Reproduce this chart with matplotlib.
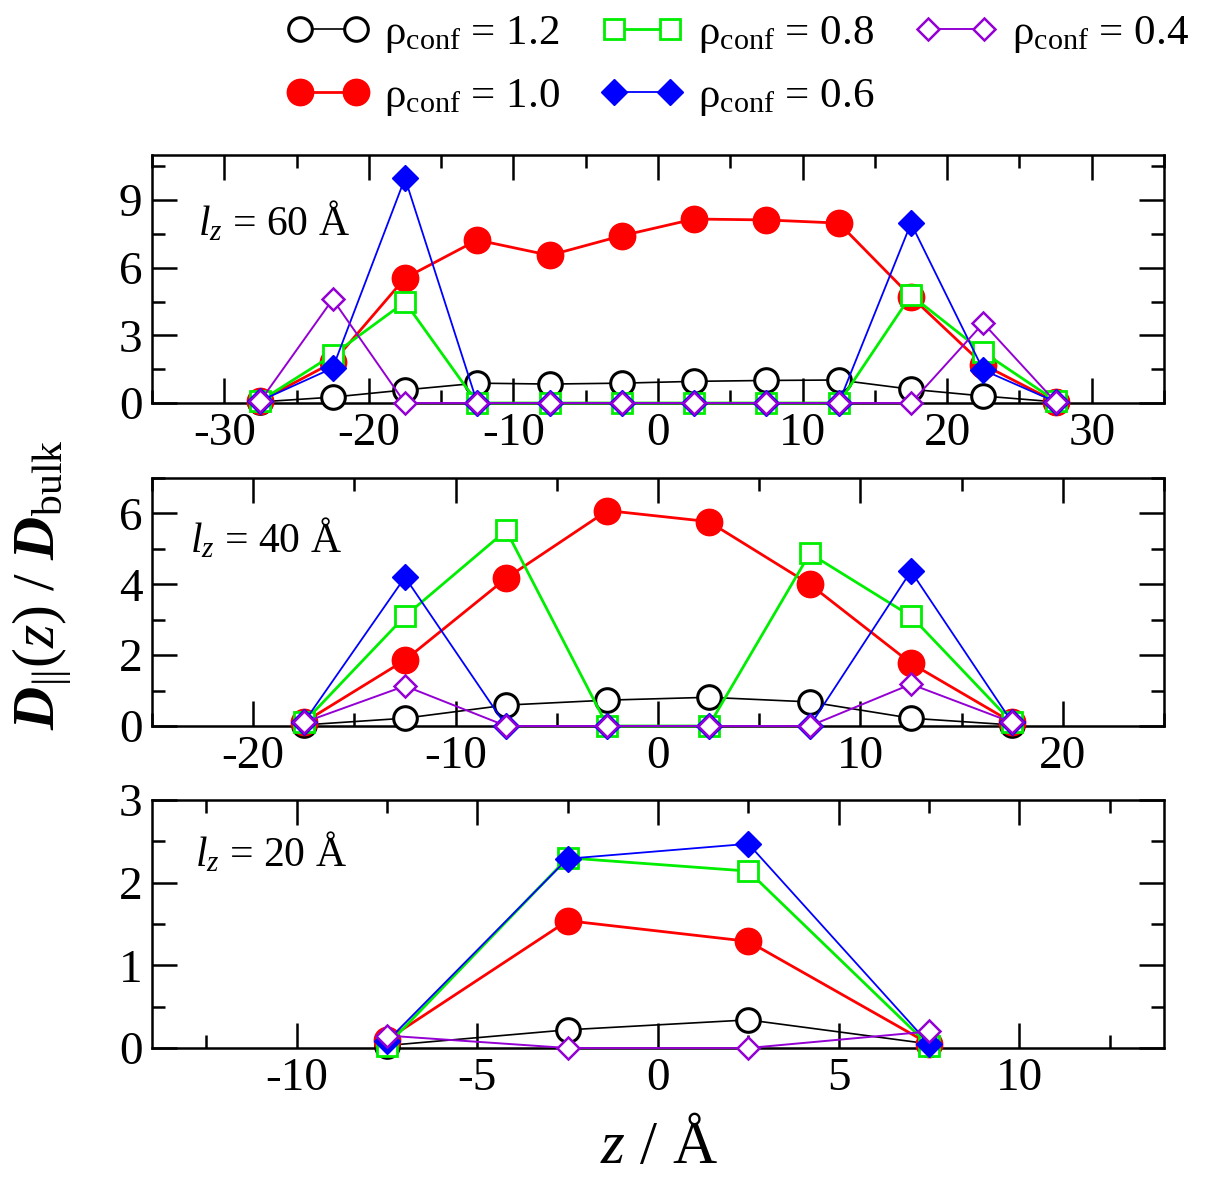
import numpy as np
import matplotlib
matplotlib.use("Agg")
import matplotlib.pyplot as plt
from matplotlib.ticker import MultipleLocator

plt.rcParams['font.family'] = ['Liberation Serif', 'DejaVu Serif']
plt.rcParams['mathtext.fontset'] = 'custom'
plt.rcParams['mathtext.rm'] = 'Liberation Serif'
plt.rcParams['mathtext.it'] = 'Liberation Serif:italic'
plt.rcParams['mathtext.bf'] = 'Liberation Serif:bold'
plt.rcParams['mathtext.bfit'] = 'Liberation Serif:italic:bold'
plt.rcParams['axes.unicode_minus'] = False

# Data: D_par(z)/D_bulk for three slit widths
z60 = [-27.5, -22.5, -17.5, -12.5, -7.5, -2.5, 2.5, 7.5, 12.5, 17.5, 22.5, 27.5]
d60_12 = [0.05, 0.26, 0.58, 0.88, 0.84, 0.88, 0.96, 1.0, 1.02, 0.61, 0.31, 0.05]
d60_10 = [0.1, 1.8, 5.54, 7.23, 6.55, 7.42, 8.16, 8.12, 7.98, 4.72, 1.7, 0.05]
d60_08 = [0.1, 2.13, 4.48, 0.0, 0.0, 0.0, 0.0, 0.0, 0.0, 4.78, 2.25, 0.1]
d60_06 = [0.1, 1.55, 9.97, 0.0, 0.0, 0.0, 0.0, 0.0, 0.0, 7.97, 1.46, 0.05]
d60_04 = [0.1, 4.6, 0.0, 0.0, 0.0, 0.0, 0.0, 0.0, 0.0, 0.0, 3.54, 0.05]

z40 = [-17.5, -12.5, -7.5, -2.5, 2.5, 7.5, 12.5, 17.5]
d40_12 = [0.03, 0.22, 0.59, 0.73, 0.81, 0.68, 0.22, 0.03]
d40_10 = [0.1, 1.86, 4.17, 6.08, 5.77, 4.0, 1.77, 0.1]
d40_08 = [0.1, 3.1, 5.52, 0.0, 0.0, 4.87, 3.1, 0.1]
d40_06 = [0.1, 4.2, 0.0, 0.0, 0.0, 0.0, 4.37, 0.1]
d40_04 = [0.1, 1.13, 0.0, 0.0, 0.0, 0.0, 1.18, 0.1]

z20 = [-7.5, -2.5, 2.5, 7.5]
d20_12 = [0.03, 0.22, 0.34, 0.05]
d20_10 = [0.1, 1.54, 1.29, 0.05]
d20_08 = [0.03, 2.3, 2.14, 0.03]
d20_06 = [0.08, 2.29, 2.47, 0.05]
d20_04 = [0.15, 0.0, 0.0, 0.2]

rho_labels = ['1.2', '1.0', '0.8', '0.6', '0.4']

styles = [
    dict(color='black', lw=1.2, marker='o', ms=17, mfc='white', mec='black', mew=2.2),
    dict(color='red', lw=2.0, marker='o', ms=19, mfc='red', mec='red', mew=1),
    dict(color='#00ee00', lw=2.0, marker='s', ms=14.5, mfc='white', mec='#00ee00', mew=2.0),
    dict(color='blue', lw=1.3, marker='D', ms=13, mfc='blue', mec='blue', mew=1),
    dict(color='#9400d3', lw=1.4, marker='D', ms=11.5, mfc='white', mec='#9400d3', mew=1.8),
]

panels = [
    (z60, [d60_12, d60_10, d60_08, d60_06, d60_04], (-35, 35), 10, 5, (0, 11), 3, 1.5, '60'),
    (z40, [d40_12, d40_10, d40_08, d40_06, d40_04], (-25, 25), 10, 5, (0, 7), 2, 1, '40'),
    (z20, [d20_12, d20_10, d20_08, d20_06, d20_04], (-14, 14), 5, 2.5, (0, 3), 1, 0.5, '20'),
]

W, H = 1219, 1180
fig = plt.figure(figsize=(W / 100, H / 100), dpi=100)

tops = [155, 478, 800]
left, right = 152, 1164
ph = 248
text_pos = [(198, 235), (190, 552), (195, 866)]

handles = []
for i, (z, series, xl, xmaj, xmin, yl, ymaj, ymin, lz) in enumerate(panels):
    ax = fig.add_axes([left / W, 1 - (tops[i] + ph) / H, (right - left) / W, ph / H])
    for j, (d, st) in enumerate(zip(series, styles)):
        ln, = ax.plot(z, d, clip_on=False, zorder=3 + j,
                      label=r'$\mathrm{ρ}_{\mathrm{conf}}$ = ' + rho_labels[j], **st)
        if i == 0:
            handles.append(ln)
    ax.set_xlim(*xl)
    ax.set_ylim(*yl)
    ax.xaxis.set_major_locator(MultipleLocator(xmaj))
    ax.xaxis.set_minor_locator(MultipleLocator(xmin))
    ax.yaxis.set_major_locator(MultipleLocator(ymaj))
    ax.yaxis.set_minor_locator(MultipleLocator(ymin))
    ax.tick_params(which='both', direction='in', top=True, right=True, width=1.8)
    ax.tick_params(which='major', length=18, labelsize=34, pad=7)
    ax.tick_params(which='minor', length=9.5)
    for sp in ax.spines.values():
        sp.set_linewidth(1.8)
    tx, ty = text_pos[i]
    ax.text((tx - left) / (right - left), (tops[i] + ph - ty) / ph,
            r'$l_z$ = ' + lz + ' Å', transform=ax.transAxes,
            fontsize=30, ha='left', va='baseline')

fig.text(659 / W, 1 - 1163 / H, r'$z$ / Å', fontsize=44, ha='center', va='baseline')
fig.text(42 / W, 1 - 585 / H,
         r'$\mathbfit{D}_{||}(z)\ /\ \mathbfit{D}_{\mathrm{bulk}}$',
         fontsize=43, rotation=90, ha='center', va='center')

fig.legend(handles=handles, ncol=3, loc='upper left',
           bbox_to_anchor=(287 / W, 1 - 14 / H), frameon=False,
           fontsize=31, numpoints=2, handlelength=1.9, handletextpad=0.35,
           columnspacing=0.95, labelspacing=0.5, borderpad=0, borderaxespad=0)

fig.savefig('out.png', dpi=100)
